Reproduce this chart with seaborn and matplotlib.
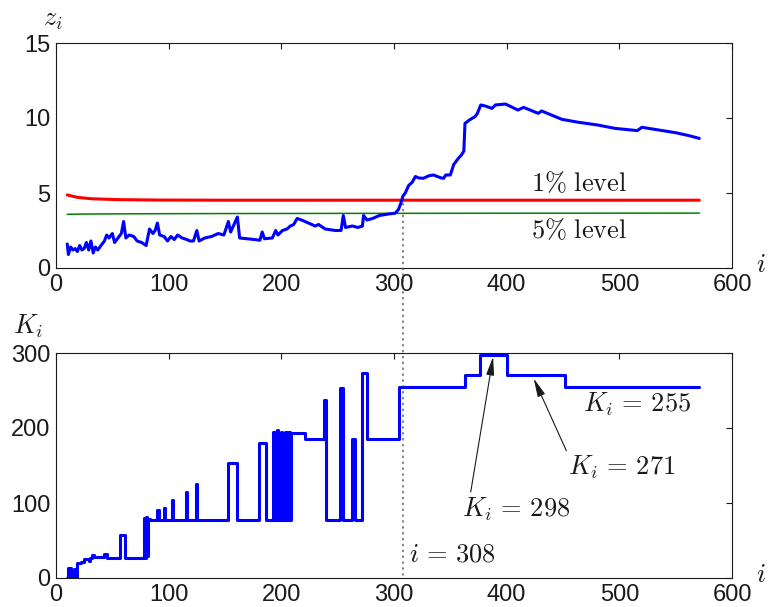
import matplotlib
matplotlib.use("Agg")
import matplotlib.pyplot as plt
from matplotlib.patches import ConnectionPatch
import numpy as np
import pandas as pd
import seaborn as sns

# ---- statistic z_i along the sequence ----
z_idx = [10, 11, 13, 15, 17, 19, 21, 23, 25, 27, 29, 31, 33, 35, 37, 40, 43, 45, 47, 50,
         52, 55, 58, 60, 62, 65, 69, 72, 76, 80, 83, 86, 88, 90, 92, 96, 99, 102, 105, 108,
         112, 116, 119, 122, 125, 127, 132, 138, 144, 149, 153, 155, 158, 161, 163, 170, 176,
         181, 183, 185, 192, 195, 197, 201, 205, 208, 211, 214, 218, 224, 230, 233, 239, 248,
         253, 255, 257, 263, 268, 272, 273, 276, 281, 287, 295, 301, 304, 306, 308, 310, 313,
         316, 319, 322, 326, 331, 335, 342, 344, 346, 350, 353, 357, 360, 362, 363, 367, 372,
         374, 377, 381, 387, 390, 399, 410, 415, 428, 431, 449, 464, 470, 481, 496, 516, 520,
         535, 550, 562, 571]
z_val = [1.6, 0.9, 1.4, 1.2, 1.3, 1.1, 1.5, 1.2, 1.3, 1.7, 1.2, 1.8, 1.0, 1.4, 1.2, 1.5, 1.8,
         2.2, 2.0, 2.3, 1.7, 2.0, 2.3, 3.1, 2.0, 2.2, 2.1, 1.8, 1.7, 1.5, 2.6, 2.3, 2.5, 3.0,
         2.2, 2.1, 1.8, 2.1, 1.9, 2.2, 2.0, 1.9, 1.8, 1.8, 2.5, 1.8, 2.0, 2.1, 2.3, 2.2, 3.1,
         2.4, 2.9, 3.4, 2.0, 1.95, 1.9, 1.85, 2.4, 1.95, 2.0, 2.5, 2.2, 2.5, 2.6, 2.8, 2.9, 3.3,
         3.2, 3.0, 2.8, 2.9, 2.6, 2.5, 2.5, 3.5, 2.7, 2.8, 2.7, 2.8, 3.5, 3.2, 3.3, 3.5, 3.6,
         3.65, 3.9, 4.3, 4.8, 5.0, 5.5, 5.7, 6.1, 6.0, 5.98, 6.15, 6.2, 6.0, 5.98, 6.2, 6.2,
         6.9, 7.3, 7.55, 7.8, 9.64, 9.87, 10.1, 10.3, 10.87, 10.8, 10.64, 10.87, 10.93, 10.53,
         10.71, 10.31, 10.47, 9.91, 9.71, 9.65, 9.53, 9.31, 9.16, 9.38, 9.2, 9.02, 8.82, 8.64]

# ---- critical levels ----
lvl_idx = [10, 19, 31, 54, 90, 150, 250, 400, 571]
lvl_1pct = [4.87, 4.71, 4.62, 4.56, 4.53, 4.52, 4.52, 4.52, 4.52]
lvl_5pct = [3.58, 3.59, 3.6, 3.61, 3.62, 3.63, 3.64, 3.65, 3.66]

# ---- K_i (step changes: value holds from index until next index) ----
k_idx = [10, 11, 13, 16, 17, 19, 22, 25, 29, 30, 32, 34, 43, 45, 57, 61, 78, 79, 80,
         81, 82, 83, 90, 91, 96, 97, 103, 104, 115, 116, 124, 125, 153, 161, 180, 186, 193,
         194, 196, 197, 200, 201, 203, 204, 206, 208, 209, 221, 238, 240, 252, 255, 263, 265,
         272, 276, 304, 363, 376, 400, 452, 571]
k_val = [0, 13, 0, 12, 0, 20, 22, 26, 23, 27, 31, 28, 32, 27, 57, 27, 80, 27, 82,
         30, 79, 77, 91, 77, 93, 77, 104, 77, 115, 77, 125, 77, 153, 77, 180, 77, 195,
         77, 197, 77, 195, 77, 195, 77, 195, 77, 193, 186, 237, 77, 254, 77, 186, 77,
         273, 186, 255, 271, 298, 271, 255, 255]

i_star = 308

df_z = pd.DataFrame({"i": z_idx, "z": z_val})
df_lvl = pd.DataFrame({"i": lvl_idx, "p1": lvl_1pct, "p5": lvl_5pct})
df_k = pd.DataFrame({"i": k_idx, "K": k_val})

sns.set_theme(style="white")
plt.rcParams["font.family"] = ["Liberation Sans", "DejaVu Sans"]
plt.rcParams["mathtext.fontset"] = "cm"

W, H = 768, 607
fig = plt.figure(figsize=(W / 100, H / 100), dpi=100)
ax1 = fig.add_axes([56 / W, 1 - 268 / H, 676 / W, 225 / H])
ax2 = fig.add_axes([56 / W, 1 - 578 / H, 676 / W, 225 / H])

sns.lineplot(data=df_lvl, x="i", y="p1", ax=ax1, color=(1, 0, 0), lw=2.2,
             estimator=None, sort=False)
sns.lineplot(data=df_lvl, x="i", y="p5", ax=ax1, color=(0, 0.5, 0), lw=1.1,
             estimator=None, sort=False)
sns.lineplot(data=df_z, x="i", y="z", ax=ax1, color=(0, 0, 1), lw=2.2,
             estimator=None, sort=False)

sns.lineplot(data=df_k, x="i", y="K", ax=ax2, color=(0, 0, 1), lw=2.2,
             estimator=None, sort=False, drawstyle="steps-post")

for ax, ylim, yt in [(ax1, (0, 15), [0, 5, 10, 15]), (ax2, (0, 300), [0, 100, 200, 300])]:
    ax.set_xlim(0, 600)
    ax.set_ylim(*ylim)
    ax.set_xticks([0, 100, 200, 300, 400, 500, 600])
    ax.set_yticks(yt)
    ax.set_xlabel("")
    ax.set_ylabel("")
    ax.tick_params(direction="in", top=True, right=True, length=4, width=0.8,
                   labelsize=17, pad=4, colors="k")
    for s in ax.spines.values():
        s.set_linewidth(0.8)
        s.set_color("k")

mt = dict(fontsize=19, color="k")
ax1.text(464, 5.67, r"$1\%\ \mathrm{level}$", ha="center", va="center", **mt)
ax1.text(464, 2.53, r"$5\%\ \mathrm{level}$", ha="center", va="center", **mt)

fig.text(43 / W, 1 - 20 / H, r"$z_i$", ha="left", va="center", **mt)
fig.text(13 / W, 1 - 326 / H, r"$K_i$", ha="left", va="center", **mt)
fig.text(756 / W, 1 - 265 / H, r"$i$", ha="left", va="center", **mt)
fig.text(756 / W, 1 - 575 / H, r"$i$", ha="left", va="center", **mt)

arrow = dict(arrowstyle="-|>,head_length=0.7,head_width=0.15", color="k", lw=0.8,
             mutation_scale=16, shrinkA=0, shrinkB=0)
ax2.text(516, 232, r"$K_i\,=\,255$", ha="center", va="center", **mt)
ax2.annotate(r"$K_i\,=\,271$", xy=(424, 266), xytext=(502, 147), textcoords="data",
             ha="center", va="center", arrowprops=dict(relpos=(0.0, 1.0), **arrow), **mt)
ax2.annotate(r"$K_i\,=\,298$", xy=(388, 295), xytext=(408, 92), textcoords="data",
             ha="center", va="center", arrowprops=dict(relpos=(0.08, 1.0), **arrow), **mt)
ax2.text(313, 32, r"$i\,=\,%d$" % i_star, ha="left", va="center", **mt)

con = ConnectionPatch(xyA=(i_star, 4.3), coordsA=ax1.transData,
                      xyB=(i_star, 0), coordsB=ax2.transData,
                      color="0.25", lw=0.9, linestyle=(0, (1.2, 3.5)))
fig.add_artist(con)

fig.savefig("out.png", dpi=100)
